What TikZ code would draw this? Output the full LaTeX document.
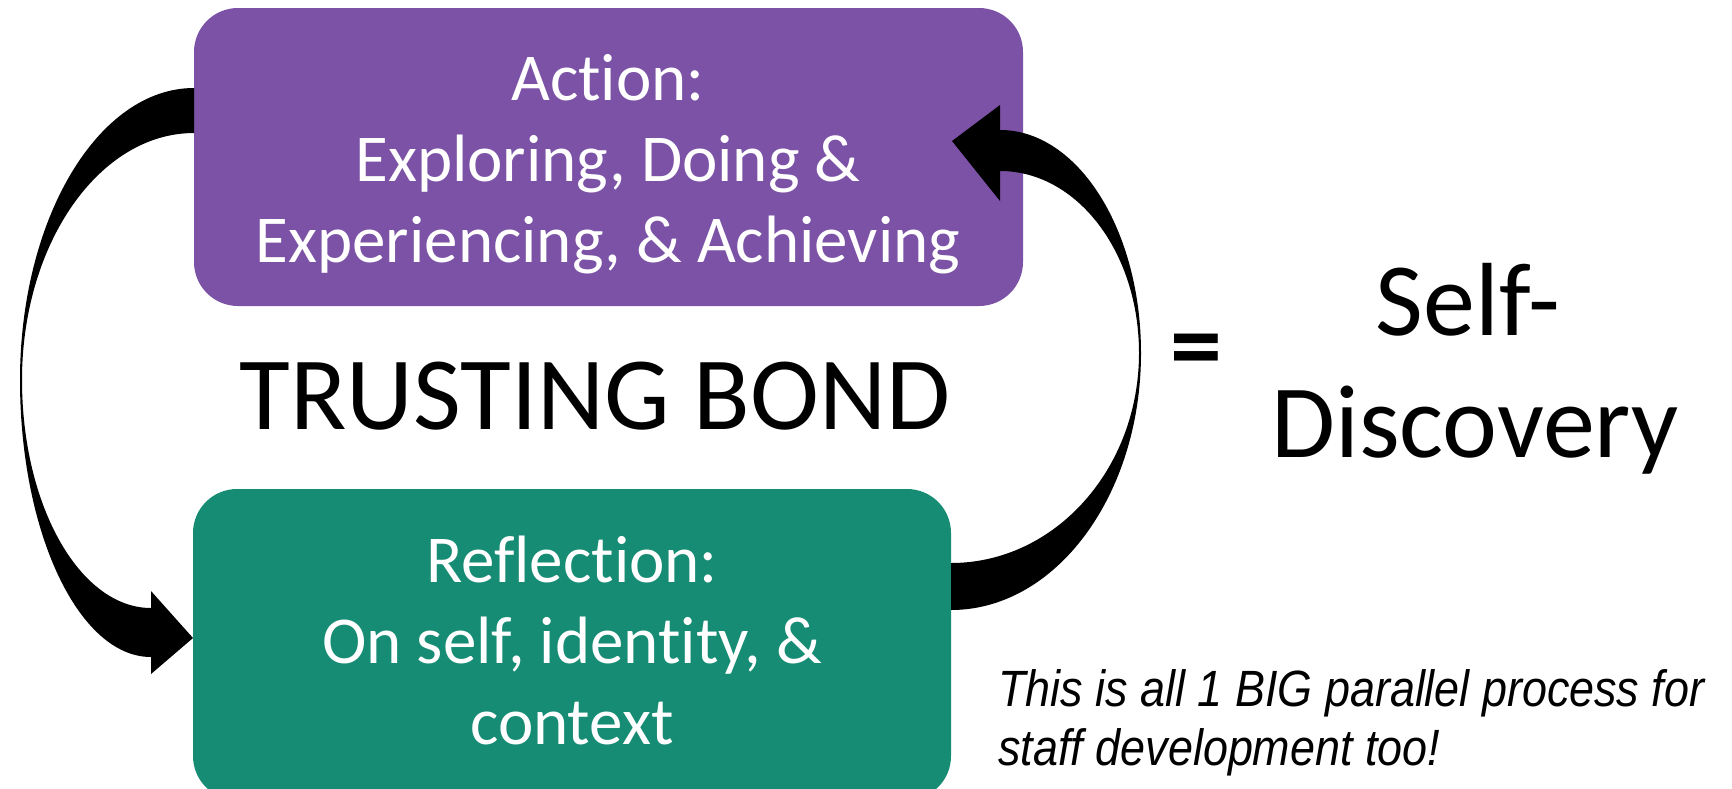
\documentclass[tikz,border=0pt]{standalone}
\usepackage{fontspec}
\setmainfont{Carlito}[Ligatures={NoCommon,NoRequired,NoContextual}]
\newfontfamily\notefont[FakeStretch=0.88]{Liberation Sans}
\definecolor{actpurple}{HTML}{7B52A6}
\definecolor{refgreen}{HTML}{178C74}
\begin{document}
\begin{tikzpicture}[x=1pt,y=-1pt,
  boxstyle/.style={rounded corners=44pt, inner sep=0pt},
  boxtext/.style={text=white, align=center, font=\fontsize{67}{81}\selectfont},
  arrowshape/.style={fill=black, draw=none}]
\useasboundingbox (0,0) rectangle (1732,788);
% boxes
\fill[actpurple, boxstyle] (194,8) rectangle (1023,306);
\fill[refgreen, boxstyle] (193,489) rectangle (951,800);
\node[boxtext] (action) at (608,164) {Action:\\Exploring, Doing \&\\Experiencing, \& Achieving};
\node[boxtext] (reflection) at (572,640) {Reflection:\\On self, identity, \&\\context};
\node[font=\fontsize{104}{110}\selectfont] (bond) at (595,396) {TRUSTING BOND};
\node[font=\bfseries\fontsize{104}{110}\selectfont] (eq) at (1196,357) {=};
\node[font=\fontsize{104}{110}\selectfont] (self1) at (1468,300) {Self-};
\node[font=\fontsize{104}{110}\selectfont] (self2) at (1475,430) {Discovery};
\node[font=\notefont\itshape\fontsize{51}{58.5}\selectfont, align=left, anchor=north west] (note) at (995,666) {This is all 1 BIG parallel process for\\staff development too!};
% left curved arrow
\path[arrowshape] (194,88) .. controls (98,88) and (20,219) .. (20,380)
  .. controls (20,533) and (79,657) .. (151,657)
  -- (151,674) -- (193,638) -- (151,591) -- (151,608)
  .. controls (80,608) and (22,506) .. (22,380)
  .. controls (22,244) and (99,133) .. (194,133) -- cycle;
% right curved arrow
\path[arrowshape] (951,610) .. controls (1056,610) and (1141,495) .. (1141,353)
  .. controls (1141,230) and (1078,130) .. (1000,130)
  -- (1000,105) -- (952,141) -- (1000,201) -- (1000,171)
  .. controls (1077,171) and (1139,252) .. (1139,353)
  .. controls (1139,469) and (1055,563) .. (951,563) -- cycle;
\end{tikzpicture}
\end{document}
